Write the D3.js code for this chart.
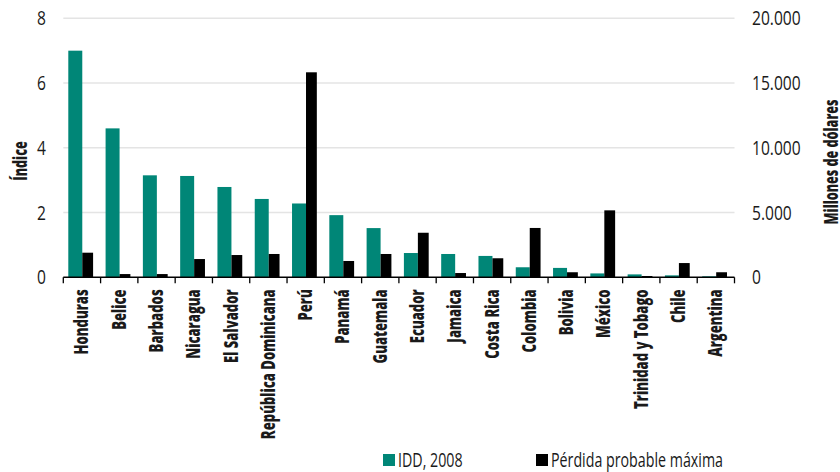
<!DOCTYPE html>
<html><head><meta charset="utf-8">
<script src="https://cdn.jsdelivr.net/npm/d3@7"></script>
<style>body{margin:0;background:#fff}svg{display:block}</style>
</head><body>
<svg id="c" width="840" height="472"></svg>
<script>
const categories = ["Honduras","Belice","Barbados","Nicaragua","El Salvador","República Dominicana","Perú","Panamá","Guatemala","Ecuador","Jamaica","Costa Rica","Colombia","Bolivia","México","Trinidad y Tobago","Chile","Argentina"];
const idd = [7.0,4.6,3.15,3.13,2.79,2.42,2.28,1.92,1.52,0.75,0.72,0.66,0.31,0.29,0.12,0.09,0.06,0.03];
const perdida = [1900,250,250,1410,1720,1800,15830,1260,1800,3440,330,1470,3810,390,5170,100,1100,390];
const leftTicks = [0,2,4,6,8];
const rightTicks = [0,5000,10000,15000,20000];
const seriesNames = ["IDD, 2008","Pérdida probable máxima"];
const colors = ["#008677","#000000"];

const svg = d3.select("#c");
const m = {l:63.3, r:734.5, t:18.3, b:277.3};
const x = d3.scaleBand().domain(categories).range([m.l, m.r]).padding(0);
const yL = d3.scaleLinear().domain([0,8]).range([m.b, m.t]);
const yR = d3.scaleLinear().domain([0,20000]).range([m.b, m.t]);
const font = "'Open Sans', sans-serif";
const txt = "#1a1a1a";

function measure(str, size, weight){
  const t = svg.append("text").attr("font-family", font).attr("font-size", size)
    .attr("font-weight", weight).text(str);
  const w = t.node().getComputedTextLength(); t.remove(); return w;
}
const sxLabel = 150 / measure("República Dominicana", 19, 800);
const sxTick = 48.7 / measure("20.000", 20, "normal");
const sxLeg = 172 / measure("Pérdida probable máxima", 20, "normal");
const sxTitle = 125 / measure("Millones de dólares", 19, 800);

svg.append("g").selectAll("line").data(leftTicks.filter(d=>d>0)).join("line")
  .attr("x1", m.l).attr("x2", m.r).attr("y1", d=>yL(d)).attr("y2", d=>yL(d))
  .attr("stroke","#e4e4e4").attr("stroke-width",1.5);

const bw = x.bandwidth();
svg.append("g").selectAll("rect").data(categories).join("rect")
  .attr("x", d=>x(d)+bw*0.134).attr("width", bw*0.375)
  .attr("y", (d,i)=>yL(idd[i])).attr("height", (d,i)=>yL(0)-yL(idd[i]))
  .attr("fill", colors[0]);
svg.append("g").selectAll("rect").data(categories).join("rect")
  .attr("x", d=>x(d)+bw*0.509).attr("width", bw*0.29)
  .attr("y", (d,i)=>yR(perdida[i])).attr("height", (d,i)=>yR(0)-yR(perdida[i]))
  .attr("fill", colors[1]);

const bottom = svg.append("g");
bottom.append("line").attr("x1", m.l).attr("x2", m.r).attr("y1", m.b).attr("y2", m.b)
  .attr("stroke","#000").attr("stroke-width",1.5);
const bounds = categories.map(d=>x(d)).concat([m.r]);
bottom.selectAll("line.t").data(bounds).join("line").attr("class","t")
  .attr("x1", d=>d).attr("x2", d=>d).attr("y1", m.b).attr("y2", m.b+6)
  .attr("stroke","#000").attr("stroke-width",1.3);
bottom.selectAll("text").data(categories).join("text")
  .attr("transform", d=>`translate(${x(d)+bw/2+6.5},${m.b+12}) rotate(-90) scale(${sxLabel},1)`)
  .attr("text-anchor","end")
  .attr("font-family", font).attr("font-weight",800).attr("font-size", 19)
  .attr("fill", txt).text(d=>d);

svg.append("g").selectAll("text").data(leftTicks).join("text")
  .attr("transform", d=>`translate(46,${yL(d)+7}) scale(${sxTick},1)`).attr("text-anchor","end")
  .attr("font-family", font).attr("font-size", 20).attr("fill", txt)
  .text(d=>d);
const fmt = d3.formatLocale({decimal:",", thousands:".", grouping:[3], currency:["",""]}).format(",");
svg.append("g").selectAll("text").data(rightTicks).join("text")
  .attr("transform", d=>`translate(752,${yR(d)+7}) scale(${sxTick},1)`).attr("text-anchor","start")
  .attr("font-family", font).attr("font-size", 20).attr("fill", txt)
  .text(d=>fmt(d));

svg.append("text").attr("transform",`translate(27,161) rotate(-90) scale(${sxTitle},1)`)
  .attr("text-anchor","middle").attr("font-family", font).attr("font-weight",800)
  .attr("font-size", 19).attr("fill", txt).text("Índice");
svg.append("text").attr("transform",`translate(837.5,162) rotate(-90) scale(${sxTitle},1)`)
  .attr("text-anchor","middle").attr("font-family", font).attr("font-weight",800)
  .attr("font-size", 19).attr("fill", txt).text("Millones de dólares");

const legX = [383, 536];
const leg = svg.append("g");
seriesNames.forEach((s,i)=>{
  leg.append("rect").attr("x", legX[i]).attr("y", 454).attr("width", 12).attr("height", 12).attr("fill", colors[i]);
  leg.append("text").attr("transform", `translate(${legX[i]+15},467) scale(${sxLeg},1)`)
    .attr("font-family", font).attr("font-size", 20).attr("fill", txt).text(s);
});
</script>
</body></html>
